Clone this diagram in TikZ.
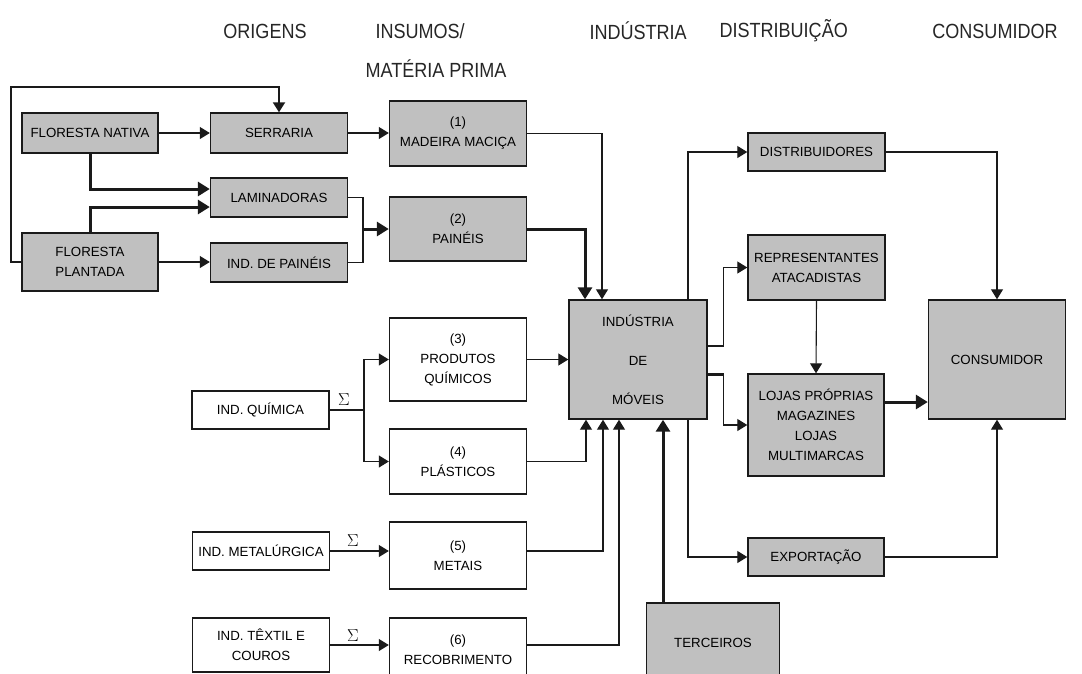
\documentclass[tikz,border=0pt]{standalone}
\usepackage{fontspec}
\setmainfont{Liberation Sans}
\newfontfamily\titulofonte[FakeStretch=0.88]{Liberation Sans}
\usetikzlibrary{arrows.meta}
\definecolor{cinza}{HTML}{C0C0C0}
\definecolor{traco}{HTML}{1A1A1A}
\newcommand{\fontecaixa}{\fontsize{13.3}{20}\selectfont}
\newcommand{\fontetitulo}{\titulofonte\fontsize{20.5}{24}\selectfont}
\tikzset{
  caixa/.style={draw=traco, line width=1.4pt, fill=cinza, minimum width=137pt, inner sep=0pt, align=center, font=\fontecaixa},
  caixabranca/.style={caixa, fill=white},
  seta/.style={draw=traco, line width=1.1pt, -{Triangle[length=10pt,width=12pt]}},
  setagrossa/.style={draw=traco, line width=3pt, -{Triangle[length=12pt,width=14pt]}},
  linha/.style={draw=traco, line width=1.1pt},
  linhagrossa/.style={draw=traco, line width=3pt},
  titulo/.style={font=\fontetitulo, text=black!85},
  soma/.style={font=\fontsize{16}{16}\selectfont}
}
\begin{document}
\begin{tikzpicture}[x=1pt,y=-1pt]
\fill[white] (0,0) rectangle (1082,673);
\useasboundingbox (0,0) rectangle (1082,673);
% titulos
\node[titulo] (torig) at (265,31) {ORIGENS};
\node[titulo, anchor=west] (tins) at (372,31) {INSUMOS/};
\node[titulo, anchor=west] (tmat) at (362,69) {MATÉRIA PRIMA};
\node[titulo, anchor=west] (tind) at (586,31) {INDÚSTRIA};
\node[titulo, anchor=west] (tdist) at (716,31) {DISTRIBUIÇÃO};
\node[titulo] (tcons) at (995,31) {CONSUMIDOR};
% origens
\node[caixa, minimum width=136pt, minimum height=40pt] (fnat) at (90,133) {FLORESTA NATIVA};
\node[caixa, minimum width=136pt, minimum height=58pt] (fplant) at (90,262) {FLORESTA\\PLANTADA};
\node[caixa, minimum height=40pt] (serr) at (279,133) {SERRARIA};
\node[caixa, minimum height=39pt] (lamin) at (279,197.5) {LAMINADORAS};
\node[caixa, minimum height=39pt] (indpain) at (279,262.5) {IND. DE PAINÉIS};
\node[caixabranca, minimum height=38pt] (indquim) at (260.5,410) {IND. QUÍMICA};
\node[caixabranca, minimum height=38pt] (indmet) at (261,551) {IND. METALÚRGICA};
\node[caixabranca, minimum height=54pt] (indtex) at (261,645) {IND. TÊXTIL E\\COUROS};
% insumos
\node[caixa, minimum height=65pt] (madeira) at (458,133.5) {(1)\\MADEIRA MACIÇA};
\node[caixa, minimum height=64pt] (paineis) at (458,229) {(2)\\PAINÉIS};
\node[caixabranca, minimum height=83pt] (prodq) at (458,359.5) {(3)\\PRODUTOS\\QUÍMICOS};
\node[caixabranca, minimum height=65pt] (plast) at (458,461.5) {(4)\\PLÁSTICOS};
\node[caixabranca, minimum height=67pt] (metais) at (458,555.5) {(5)\\METAIS};
\node[caixabranca, minimum height=64pt] (recob) at (458,650) {(6)\\RECOBRIMENTO};
% industria
\node[caixa, minimum width=138pt, minimum height=119pt] (industria) at (638,359.5) {INDÚSTRIA\\[19pt]DE\\[19pt]MÓVEIS};
\node[caixa, minimum width=133pt, minimum height=80pt] (terceiros) at (713,643) {TERCEIROS};
% distribuicao e consumidor
\node[caixa, minimum height=38pt] (distrib) at (816.5,152) {DISTRIBUIDORES};
\node[caixa, minimum height=65pt] (repres) at (816.5,267.5) {REPRESENTANTES\\ATACADISTAS};
\node[caixa, minimum width=136pt, minimum height=102pt] (lojas) at (816,425) {LOJAS PRÓPRIAS\\MAGAZINES\\LOJAS\\MULTIMARCAS};
\node[caixa, minimum width=136pt, minimum height=38pt] (export) at (816,557) {EXPORTAÇÃO};
\node[caixa, minimum height=119pt] (consum) at (997,359.5) {CONSUMIDOR};
% somatorios
\node[soma] (sq) at (344,400) {$\Sigma$};
\node[soma] (sm) at (353,541) {$\Sigma$};
\node[soma] (st) at (353,636) {$\Sigma$};
% origens -> insumos
\draw[seta, line width=2pt] (fplant.west) -- ++(-10,0) |- ([yshift=25pt]serr.north) -- (serr.north);
\draw[seta] (fnat.east) -- (serr.west);
\draw[setagrossa] (fnat.south) |- ([yshift=8.5pt]lamin.west);
\draw[setagrossa] (fplant.north) |- ([yshift=-9.5pt]lamin.west);
\draw[seta] (fplant.east) -- (fplant.east -| indpain.west);
\draw[seta] (serr.east) -- (serr.east -| madeira.west);
\coordinate (pfork) at (363,229);
\draw[linha] (lamin.east) -- (lamin.east -| pfork) -- (indpain.east -| pfork) -- (indpain.east);
\draw[setagrossa] (pfork) -- (paineis.west);
\coordinate (qfork) at (364,410);
\draw[linha] (indquim.east) -- (qfork);
\draw[seta] (qfork) |- (prodq.west);
\draw[seta] (qfork) |- (plast.west);
\draw[seta] (indmet.east) -- (indmet.east -| metais.west);
\draw[seta] (indtex.east) -- (indtex.east -| recob.west);
% insumos -> industria
\draw[seta] (madeira.east) -| ([xshift=-36pt]industria.north);
\draw[setagrossa] (paineis.east) -| ([xshift=-53pt]industria.north);
\draw[seta] (prodq.east) -- (industria.west);
\draw[seta] (plast.east) -| ([xshift=-52pt]industria.south);
\draw[seta] (indmet.east -| metais.east) -| ([xshift=-35pt]industria.south);
\draw[seta] (indtex.east -| recob.east) -| ([xshift=-19pt]industria.south);
\draw[setagrossa] ([xshift=-50pt]terceiros.north) -- ([xshift=25pt]industria.south);
% industria -> distribuicao
\draw[seta] ([xshift=50pt]industria.north) |- (distrib.west);
\draw[seta] ([yshift=13.5pt]industria.east) -- ++(16,0) |- (repres.west);
\draw[linhagrossa] ([yshift=-14.5pt]industria.east) -- ++(16,0) coordinate (lfork);
\draw[seta] (lfork) |- (lojas.west);
\draw[seta] ([xshift=50pt]industria.south) |- (export.west);
% distribuicao -> consumidor
\draw[seta] (distrib.east) -| (consum.north);
\draw[seta] (repres.south) -- (lojas.north);
\draw[setagrossa] ([yshift=23pt]lojas.east) -- ([yshift=23pt]lojas.east -| consum.west);
\draw[seta] (export.east) -| (consum.south);
\end{tikzpicture}
\end{document}
